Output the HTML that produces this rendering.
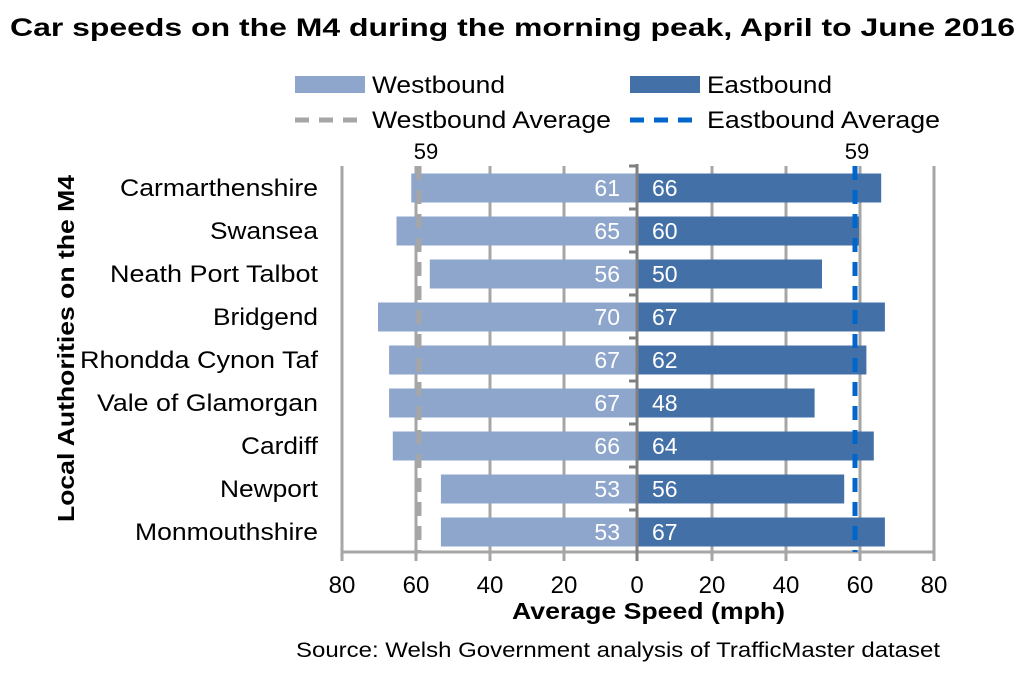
<!DOCTYPE html>
<html><head><meta charset="utf-8"><style>body{margin:0;background:#fff}</style></head><body>
<svg width="1030" height="676" xmlns="http://www.w3.org/2000/svg" font-family="Liberation Sans, Arial, sans-serif">
<rect width="1030" height="676" fill="#fff"/>
<text x="10" y="36" font-size="25" font-weight="bold" textLength="1005" lengthAdjust="spacingAndGlyphs">Car speeds on the M4 during the morning peak, April to June 2016</text>
<!-- legend -->
<rect x="295" y="76" width="70" height="17" fill="#8EA6CC"/>
<text x="372" y="93" font-size="24" textLength="133" lengthAdjust="spacingAndGlyphs">Westbound</text>
<rect x="630" y="76" width="70" height="17" fill="#4470A8"/>
<text x="707" y="93" font-size="24" textLength="125" lengthAdjust="spacingAndGlyphs">Eastbound</text>
<line x1="295" y1="120" x2="367" y2="120" stroke="#A6A6A6" stroke-width="5" stroke-dasharray="14,10"/>
<text x="372" y="128" font-size="24" textLength="239" lengthAdjust="spacingAndGlyphs">Westbound Average</text>
<line x1="630" y1="120" x2="702" y2="120" stroke="#0066CC" stroke-width="5" stroke-dasharray="14,10"/>
<text x="707" y="128" font-size="24" textLength="233" lengthAdjust="spacingAndGlyphs">Eastbound Average</text>
<!-- grid -->
<g stroke="#A6A6A6" stroke-width="3">
<line x1="342" y1="166" x2="342" y2="561"/><line x1="416" y1="166" x2="416" y2="561"/>
<line x1="490" y1="166" x2="490" y2="561"/><line x1="564" y1="166" x2="564" y2="561"/>
<line x1="712" y1="166" x2="712" y2="561"/><line x1="786" y1="166" x2="786" y2="561"/>
<line x1="860" y1="166" x2="860" y2="561"/><line x1="934" y1="166" x2="934" y2="561"/>
<line x1="342" y1="552" x2="934" y2="552"/>
</g>
<!-- bars -->
<g fill="#8EA6CC">
<rect x="411.3" y="173.5" width="225.7" height="29"/>
<rect x="396.5" y="216.5" width="240.5" height="29"/>
<rect x="429.8" y="259.5" width="207.2" height="29"/>
<rect x="378" y="302.5" width="259" height="29"/>
<rect x="389.1" y="345.5" width="247.9" height="29"/>
<rect x="389.1" y="388.5" width="247.9" height="29"/>
<rect x="392.8" y="431.5" width="244.2" height="29"/>
<rect x="440.9" y="474.5" width="196.1" height="29"/>
<rect x="440.9" y="517.5" width="196.1" height="29"/>
</g>
<g fill="#4470A8">
<rect x="637" y="173.5" width="244.2" height="29"/>
<rect x="637" y="216.5" width="222" height="29"/>
<rect x="637" y="259.5" width="185" height="29"/>
<rect x="637" y="302.5" width="247.9" height="29"/>
<rect x="637" y="345.5" width="229.4" height="29"/>
<rect x="637" y="388.5" width="177.6" height="29"/>
<rect x="637" y="431.5" width="236.8" height="29"/>
<rect x="637" y="474.5" width="207.2" height="29"/>
<rect x="637" y="517.5" width="247.9" height="29"/>
</g>
<line x1="419" y1="166" x2="419" y2="552" stroke="#A6A6A6" stroke-width="5" stroke-dasharray="14,10"/>
<line x1="855" y1="166" x2="855" y2="552" stroke="#0066CC" stroke-width="5" stroke-dasharray="14,10"/>
<line x1="637" y1="164" x2="637" y2="561" stroke="#808080" stroke-width="3"/>
<g stroke="#808080" stroke-width="3">
<line x1="629" y1="166" x2="637" y2="166"/><line x1="629" y1="209" x2="637" y2="209"/><line x1="629" y1="252" x2="637" y2="252"/><line x1="629" y1="295" x2="637" y2="295"/><line x1="629" y1="338" x2="637" y2="338"/><line x1="629" y1="381" x2="637" y2="381"/><line x1="629" y1="424" x2="637" y2="424"/><line x1="629" y1="467" x2="637" y2="467"/><line x1="629" y1="510" x2="637" y2="510"/>
</g>
<text x="426" y="159" font-size="22" text-anchor="middle">59</text>
<text x="857" y="159" font-size="22" text-anchor="middle">59</text>
<g font-size="23" fill="#fff">
<g text-anchor="end">
<text x="620" y="196">61</text><text x="620" y="239">65</text><text x="620" y="282">56</text><text x="620" y="325">70</text><text x="620" y="368">67</text><text x="620" y="411">67</text><text x="620" y="454">66</text><text x="620" y="497">53</text><text x="620" y="540">53</text>
</g>
<text x="652" y="196">66</text><text x="652" y="239">60</text><text x="652" y="282">50</text><text x="652" y="325">67</text><text x="652" y="368">62</text><text x="652" y="411">48</text><text x="652" y="454">64</text><text x="652" y="497">56</text><text x="652" y="540">67</text>
</g>
<g font-size="24">
<text x="120" y="196" textLength="198" lengthAdjust="spacingAndGlyphs">Carmarthenshire</text>
<text x="210" y="239" textLength="108" lengthAdjust="spacingAndGlyphs">Swansea</text>
<text x="110" y="282" textLength="208" lengthAdjust="spacingAndGlyphs">Neath Port Talbot</text>
<text x="213" y="325" textLength="105" lengthAdjust="spacingAndGlyphs">Bridgend</text>
<text x="80" y="368" textLength="238" lengthAdjust="spacingAndGlyphs">Rhondda Cynon Taf</text>
<text x="97" y="411" textLength="221" lengthAdjust="spacingAndGlyphs">Vale of Glamorgan</text>
<text x="241" y="454" textLength="77" lengthAdjust="spacingAndGlyphs">Cardiff</text>
<text x="220" y="497" textLength="98" lengthAdjust="spacingAndGlyphs">Newport</text>
<text x="135" y="540" textLength="183" lengthAdjust="spacingAndGlyphs">Monmouthshire</text>
</g>
<g font-size="24" text-anchor="middle">
<text x="342" y="593">80</text><text x="416" y="593">60</text><text x="490" y="593">40</text><text x="564" y="593">20</text><text x="637" y="593">0</text><text x="712" y="593">20</text><text x="786" y="593">40</text><text x="860" y="593">60</text><text x="934" y="593">80</text>
</g>
<text x="512" y="619" font-size="23" font-weight="bold" textLength="273" lengthAdjust="spacingAndGlyphs">Average Speed (mph)</text>
<text transform="translate(74,522) rotate(-90)" font-size="23" font-weight="bold" textLength="347" lengthAdjust="spacingAndGlyphs">Local Authorities on the M4</text>
<text x="296" y="657" font-size="21" textLength="644" lengthAdjust="spacingAndGlyphs">Source: Welsh Government analysis of TrafficMaster dataset</text>
</svg>
</body></html>
